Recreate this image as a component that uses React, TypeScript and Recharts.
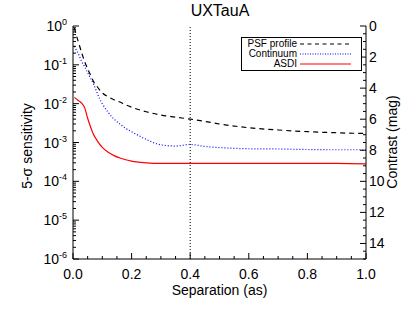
import { LineChart, Line, XAxis, YAxis, ReferenceLine, Legend } from 'recharts';

const FONT = '"Liberation Sans", Arial, Helvetica, sans-serif';

// separation in arcsec
const separation = [
  0.005, 0.01, 0.02, 0.03, 0.04, 0.05, 0.06, 0.07, 0.08, 0.09, 0.1, 0.12, 0.14, 0.16, 0.18, 0.2,
  0.25, 0.3, 0.35, 0.4, 0.45, 0.5, 0.6, 0.7, 0.8, 0.9, 1.0,
];

// 5-sigma sensitivity per curve
const psfProfile = [
  0.9, 0.63, 0.355, 0.2, 0.12, 0.079, 0.054, 0.037, 0.029, 0.023, 0.019, 0.015, 0.0126, 0.011,
  0.0093, 0.0081, 0.0062, 0.0051, 0.0045, 0.004, 0.0035, 0.003, 0.0024, 0.0021, 0.0019, 0.00178,
  0.0017,
];
const continuum = [
  0.3, 0.25, 0.18, 0.12, 0.089, 0.063, 0.045, 0.032, 0.021, 0.0138, 0.01, 0.006, 0.004, 0.003,
  0.0023, 0.0019, 0.0012, 0.00087, 0.00081, 0.00089, 0.00079, 0.00074, 0.00069, 0.00068, 0.00066,
  0.00065, 0.00065,
];
const asdi = [
  0.0145, 0.0135, 0.0118, 0.0102, 0.0078, 0.0042, 0.0025, 0.0016, 0.0012, 0.00092, 0.00075, 0.00056,
  0.00046, 0.0004, 0.00036, 0.00033, 0.0003, 0.00029, 0.00029, 0.00029, 0.00029, 0.00029, 0.00029,
  0.00029, 0.00029, 0.00029, 0.00028,
];

const xTicks = [
  0, 0.05, 0.1, 0.15, 0.2, 0.25, 0.3, 0.35, 0.4, 0.45, 0.5, 0.55, 0.6, 0.65, 0.7, 0.75, 0.8, 0.85,
  0.9, 0.95, 1.0,
];
const xLabels = [0, 0.2, 0.4, 0.6, 0.8, 1.0];
const decades = [-6, -5, -4, -3, -2, -1, 0];
const magTicks = [
  0, 0.5, 1, 1.5, 2, 2.5, 3, 3.5, 4, 4.5, 5, 5.5, 6, 6.5, 7, 7.5, 8, 8.5, 9, 9.5, 10, 10.5, 11,
  11.5, 12, 12.5, 13, 13.5, 14, 14.5, 15,
];
const magLabels = [0, 2, 4, 6, 8, 10, 12, 14];

const legendRows = [
  { name: 'PSF profile', color: '#000', dash: '4 3.5' },
  { name: 'Continuum', color: '#0000ff', dash: '1 1.5' },
  { name: 'ASDI', color: '#ff0000', dash: undefined },
];

const data = separation.map((s, i) => ({
  sep: s,
  psf: psfProfile[i],
  cont: continuum[i],
  asdi: asdi[i],
}));

const logTicks: number[] = [];
decades.forEach((d) => {
  logTicks.push(Math.pow(10, d));
  if (d < 0) {
    for (let m = 2; m <= 9; m++) logTicks.push(m * Math.pow(10, d));
  }
});

const isLabel = (v: number, list: number[]) => list.some((l) => Math.abs(l - v) < 1e-9);

const LogTick = (props: any) => {
  const { x, y, payload } = props;
  const v = payload.value;
  const exp = Math.round(Math.log10(v));
  const major = Math.abs(Math.log10(v) - exp) < 1e-6;
  return (
    <g>
      <line x1={x} x2={x + (major ? 6 : 3)} y1={y} y2={y} stroke="#000" strokeWidth={1} />
      {major && (
        <text x={x - 6} y={y + 5} textAnchor="end" fontSize={14} fontFamily={FONT} fill="#000">
          10
          <tspan dy={-6} fontSize={9}>
            {exp}
          </tspan>
        </text>
      )}
    </g>
  );
};

const MagTick = (props: any) => {
  const { x, y, payload } = props;
  const v = payload.value;
  const major = isLabel(v, magLabels);
  return (
    <g>
      <line x1={x} x2={x - (major ? 6 : 3)} y1={y} y2={y} stroke="#000" strokeWidth={1} />
      {major && (
        <text x={x + 3} y={y + 5} textAnchor="start" fontSize={14} fontFamily={FONT} fill="#000">
          {v}
        </text>
      )}
    </g>
  );
};

const BottomTick = (props: any) => {
  const { x, y, payload } = props;
  const major = isLabel(payload.value, xLabels);
  return (
    <g>
      <line x1={x} x2={x} y1={y} y2={y - (major ? 6 : 3)} stroke="#000" strokeWidth={1} />
      {major && (
        <text x={x} y={y + 20} textAnchor="middle" fontSize={14} fontFamily={FONT} fill="#000">
          {payload.value.toFixed(1)}
        </text>
      )}
    </g>
  );
};

const TopTick = (props: any) => {
  const { x, y, payload } = props;
  const major = isLabel(payload.value, xLabels);
  return <line x1={x} x2={x} y1={y} y2={y + (major ? 6 : 3)} stroke="#000" strokeWidth={1} />;
};

const LegendBox = () => (
  <div
    style={{
      width: 121,
      height: 34,
      boxSizing: 'border-box',
      border: '1px solid #000',
      background: '#fff',
      fontFamily: FONT,
      fontSize: 10,
      paddingTop: 1,
    }}
  >
    {legendRows.map((r) => (
      <div key={r.name} style={{ display: 'flex', alignItems: 'center', height: 10 }}>
        <span style={{ width: 55, textAlign: 'right', lineHeight: '10px' }}>{r.name}</span>
        <svg width={60} height={8} style={{ marginLeft: 3 }}>
          <line x1={0} x2={51} y1={4} y2={4} stroke={r.color} strokeWidth={1.2} strokeDasharray={r.dash} />
        </svg>
      </div>
    ))}
  </div>
);

export default function App() {
  return (
    <div style={{ position: 'absolute', left: 0, top: 0, width: 415, height: 312, background: '#fff' }}>
      <LineChart width={415} height={312} data={data} margin={{ top: 26, right: 0, bottom: 0, left: 0 }}>
        <XAxis
          dataKey="sep"
          type="number"
          domain={[0, 1]}
          ticks={xTicks}
          interval={0}
          tick={<BottomTick />}
          tickLine={false}
          tickSize={0}
          tickMargin={0}
          height={53}
          stroke="#000"
          allowDataOverflow
        />
        <XAxis
          xAxisId="top"
          orientation="top"
          type="number"
          domain={[0, 1]}
          ticks={xTicks}
          interval={0}
          tick={<TopTick />}
          tickLine={false}
          tickSize={0}
          tickMargin={0}
          height={0}
          stroke="#000"
          allowDataOverflow
        />
        <YAxis
          type="number"
          scale="log"
          domain={[1e-6, 1]}
          ticks={logTicks}
          interval={0}
          tick={<LogTick />}
          tickLine={false}
          tickSize={0}
          tickMargin={0}
          width={73}
          stroke="#000"
          allowDataOverflow
        />
        <YAxis
          yAxisId="mag"
          orientation="right"
          type="number"
          domain={[0, 15]}
          reversed
          ticks={magTicks}
          interval={0}
          tick={<MagTick />}
          tickLine={false}
          tickSize={0}
          tickMargin={0}
          width={49}
          stroke="#000"
          allowDataOverflow
        />
        <ReferenceLine x={0.4} stroke="#000" strokeDasharray="1 2" strokeWidth={1} />
        <Line
          dataKey="psf"
          type="monotone"
          stroke="#000"
          strokeWidth={1.2}
          strokeDasharray="5 4"
          dot={false}
          isAnimationActive={false}
        />
        <Line
          dataKey="cont"
          type="monotone"
          stroke="#0000ff"
          strokeWidth={1.2}
          strokeDasharray="1 2"
          dot={false}
          isAnimationActive={false}
        />
        <Line
          dataKey="asdi"
          type="monotone"
          stroke="#ff0000"
          strokeWidth={1.2}
          dot={false}
          isAnimationActive={false}
        />
        <Legend
          layout="vertical"
          align="center"
          verticalAlign="middle"
          content={<LegendBox />}
          wrapperStyle={{ left: 241, top: 37, width: 121, height: 34 }}
        />
      </LineChart>
      <div
        style={{
          position: 'absolute',
          left: 0,
          width: 440,
          top: 2,
          textAlign: 'center',
          fontFamily: FONT,
          fontSize: 16,
        }}
      >
        UXTauA
      </div>
      <div
        style={{
          position: 'absolute',
          left: 73,
          width: 293,
          top: 282,
          textAlign: 'center',
          fontFamily: FONT,
          fontSize: 14,
        }}
      >
        Separation (as)
      </div>
      <div
        style={{
          position: 'absolute',
          left: 27,
          top: 146,
          transform: 'translate(-50%, -50%) rotate(-90deg)',
          whiteSpace: 'nowrap',
          fontFamily: FONT,
          fontSize: 14,
        }}
      >
        5-σ sensitivity
      </div>
      <div
        style={{
          position: 'absolute',
          left: 392,
          top: 142,
          transform: 'translate(-50%, -50%) rotate(-90deg)',
          whiteSpace: 'nowrap',
          fontFamily: FONT,
          fontSize: 14,
        }}
      >
        Contrast (mag)
      </div>
    </div>
  );
}
